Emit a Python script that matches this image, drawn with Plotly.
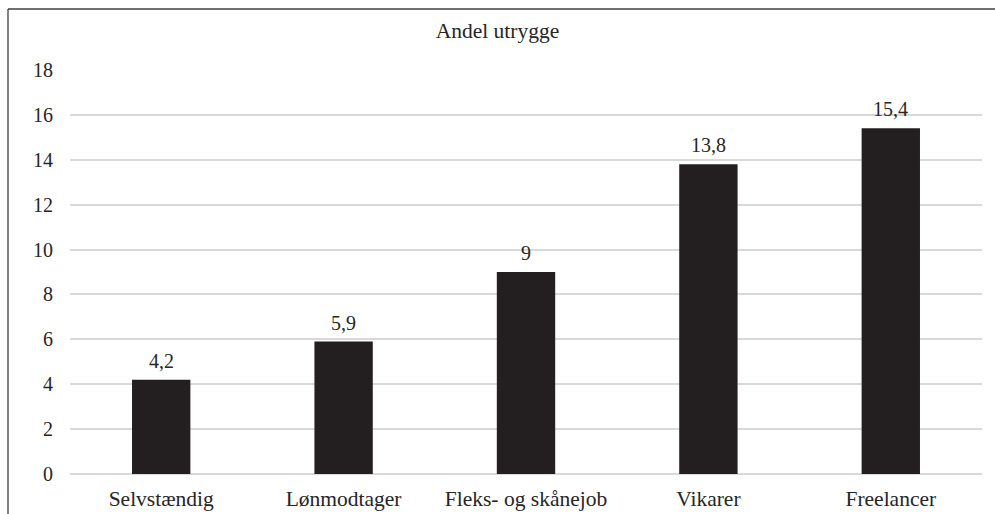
import plotly.graph_objects as go

categories = ["Selvstændig", "Lønmodtager", "Fleks- og skånejob", "Vikarer", "Freelancer"]
values = [4.2, 5.9, 9.0, 13.8, 15.4]
labels = ["4,2", "5,9", "9", "13,8", "15,4"]
y_ticks = [0, 2, 4, 6, 8, 10, 12, 14, 16, 18]

FONT = "Liberation Serif"
TXT = "#262626"
FS = 20
FS_TXT = 21.5

fig = go.Figure()
fig.add_trace(go.Bar(
    x=categories, y=values,
    marker=dict(color="#231f20", line=dict(width=0)),
    hoverinfo="skip",
))

for c, v, t in zip(categories, values, labels):
    fig.add_annotation(x=c, y=v, text=t, showarrow=False, yanchor="bottom",
                       yshift=6, font=dict(family=FONT, size=FS, color=TXT))

W, H = 995, 514
L, R, T, B = 70, 13, 70, 40
pw, ph = W - L - R, H - T - B

def px(x):
    return (x - L) / pw

def py(y):
    return (H - B - y) / ph

fig.add_shape(type="line", xref="paper", yref="paper",
              x0=px(8), x1=px(8), y0=py(9), y1=py(530),
              line=dict(color="#595959", width=1.5))
fig.add_shape(type="line", xref="paper", yref="paper",
              x0=px(8), x1=px(1010), y0=py(9), y1=py(9),
              line=dict(color="#404040", width=1.5))

fig.update_layout(
    width=W, height=H,
    margin=dict(l=L, r=R, t=T, b=B, pad=0, autoexpand=False),
    paper_bgcolor="white", plot_bgcolor="white",
    bargap=0.68,
    showlegend=False,
    title=dict(text="Andel utrygge", x=0.5, xanchor="center",
               y=1 - 30 / H, yanchor="middle", yref="container",
               font=dict(family=FONT, size=FS_TXT, color=TXT)),
    font=dict(family=FONT, size=FS, color=TXT),
    xaxis=dict(showgrid=False, showline=False, ticks="", zeroline=False,
               automargin=False,
               tickfont=dict(family=FONT, size=FS_TXT, color=TXT),
               ticklabelstandoff=9),
    yaxis=dict(range=[0, 18], tickvals=y_ticks, ticktext=[str(v) for v in y_ticks],
               showgrid=True, gridcolor="#d9d9d9", gridwidth=1.5,
               zeroline=True, zerolinecolor="#d9d9d9", zerolinewidth=1.5,
               showline=False, ticks="", automargin=False,
               tickfont=dict(family=FONT, size=FS, color=TXT),
               ticklabelstandoff=16),
)

fig.write_html("out.html")
